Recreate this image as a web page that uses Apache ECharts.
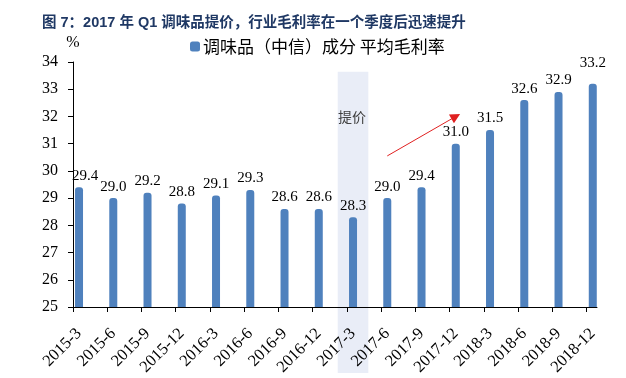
<!DOCTYPE html>
<html>
<head>
<meta charset="utf-8">
<script src="https://cdn.jsdelivr.net/npm/echarts@6/dist/echarts.min.js"></script>
<style>
  html, body { margin: 0; padding: 0; background: #fff; }
  #chart { width: 626px; height: 378px; }
</style>
</head>
<body>
<div id="chart"></div>
<script>
const categories = ['2015-3', '2015-6', '2015-9', '2015-12', '2016-3', '2016-6', '2016-9', '2016-12',
  '2017-3', '2017-6', '2017-9', '2017-12', '2018-3', '2018-6', '2018-9', '2018-12'];
const grossMargin = [29.4, 29.0, 29.2, 28.8, 29.1, 29.3, 28.6, 28.6, 28.3, 29.0, 29.4, 31.0, 31.5, 32.6, 32.9, 33.2];
const yTicks = [25, 26, 27, 28, 29, 30, 31, 32, 33, 34];

const serif = "'Liberation Serif', 'Times New Roman', serif";
const cjk = "'Noto Sans CJK SC', sans-serif";
const blue = '#4f81bd';

const chart = echarts.init(document.getElementById('chart'));

const barData = grossMargin.map((v, i) => {
  if (i === 0) return { value: v, label: { offset: [6, 0] } };
  if (i === grossMargin.length - 1) return { value: v, label: { offset: [0, -9] } };
  return v;
});

chart.setOption({
  animation: false,
  title: {
    text: '图 7：2017 年 Q1 调味品提价，行业毛利率在一个季度后迅速提升',
    left: 37,
    top: 11,
    textStyle: { fontSize: 14.5, fontWeight: 'bold', color: '#1f3864', fontFamily: "'Liberation Sans', 'Noto Sans CJK SC', sans-serif" }
  },
  legend: {
    left: 185,
    top: 33,
    icon: 'roundRect',
    itemWidth: 10,
    itemHeight: 10,
    itemGap: 4,
    textStyle: { fontSize: 17, color: '#000', fontFamily: cjk, padding: [0, 0, 0, -2] },
    data: ['调味品（中信）成分 平均毛利率']
  },
  grid: [
    // bars: one band per quarter, bar centred in its band
    { left: 61.9, right: 16.1, top: 62, bottom: 71, outerBoundsMode: 'none' },
    // frame: axis lines and ticks
    { left: 73, right: 29, top: 62, bottom: 71, outerBoundsMode: 'none' }
  ],
  xAxis: [
    {
      type: 'category',
      gridIndex: 0,
      data: categories,
      axisLine: { show: false },
      axisTick: { show: false },
      axisLabel: { rotate: 45, margin: 24, interval: 0, hideOverlap: false, fontSize: 16.5, color: '#000', fontFamily: serif }
    },
    {
      type: 'value',
      gridIndex: 1,
      min: 0,
      max: categories.length - 1 + 0.3,
      axisLine: { lineStyle: { color: '#000', width: 1 } },
      axisTick: { show: true, length: 5, lineStyle: { color: '#000' }, customValues: categories.map((_, i) => i) },
      axisLabel: { show: false },
      splitLine: { show: false }
    }
  ],
  yAxis: [
    {
      type: 'value',
      gridIndex: 0,
      min: yTicks[0],
      max: yTicks[yTicks.length - 1],
      interval: 1,
      show: false
    },
    {
      type: 'value',
      gridIndex: 1,
      min: yTicks[0],
      max: yTicks[yTicks.length - 1],
      interval: 1,
      name: '%',
      nameLocation: 'end',
      nameGap: 19,
      nameTextStyle: { fontSize: 16, color: '#000', fontFamily: serif, align: 'center', verticalAlign: 'middle' },
      axisLine: { show: true, lineStyle: { color: '#000', width: 1 } },
      axisTick: { show: true, length: 5, lineStyle: { color: '#000' } },
      axisLabel: { margin: 15, fontSize: 16, color: '#000', fontFamily: serif },
      splitLine: { show: false }
    }
  ],
  series: [
    {
      name: '调味品（中信）成分 平均毛利率',
      type: 'bar',
      xAxisIndex: 0,
      yAxisIndex: 0,
      data: barData,
      barWidth: 8,
      itemStyle: { color: blue, borderRadius: [3, 3, 0, 0] },
      label: {
        show: true,
        position: 'top',
        distance: 4,
        fontSize: 15,
        color: '#000',
        fontFamily: serif,
        formatter: p => p.value.toFixed(1)
      },
      markLine: {
        silent: true,
        symbol: ['none', 'triangle'],
        symbolSize: [10, 10],
        label: { show: false },
        lineStyle: { color: '#e02020', width: 1, type: 'solid' },
        data: [[
          { coord: ['2017-6', 30.55] },
          { coord: ['2017-12', 32.0], itemStyle: { color: '#c00000' } }
        ]]
      }
    }
  ]
});

// shaded "提价" band around the 2017-3 quarter
const c0 = chart.convertToPixel({ xAxisIndex: 0, yAxisIndex: 0 }, ['2017-3', 33.64]);
const c1 = chart.convertToPixel({ xAxisIndex: 0, yAxisIndex: 0 }, ['2017-6', 22.58]);
const band = (c1[0] - c0[0]) * 0.447;
const mid = chart.convertToPixel({ xAxisIndex: 0, yAxisIndex: 0 }, ['2017-3', 32.0]);

chart.setOption({
  graphic: [
    {
      type: 'rect',
      z: -1,
      shape: { x: c0[0] - band, y: c0[1], width: band * 2, height: c1[1] - c0[1] },
      style: { fill: '#e9edf7' }
    },
    {
      type: 'text',
      z: 5,
      x: mid[0] - 1,
      y: mid[1],
      style: { text: '提价', fontSize: 14, fill: '#404040', fontFamily: cjk, align: 'center', verticalAlign: 'middle' }
    }
  ]
});
</script>
</body>
</html>
